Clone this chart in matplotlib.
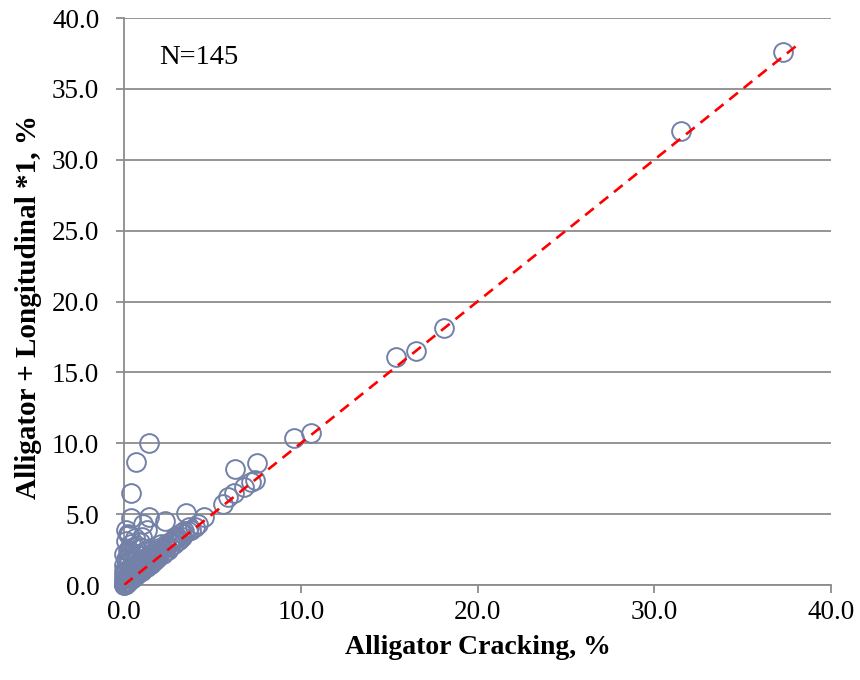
import matplotlib
matplotlib.use("Agg")
import matplotlib.pyplot as plt
from matplotlib.ticker import MultipleLocator, FormatStrFormatter

# Alligator cracking (%) for each section
alligator = [
    37.3, 31.5, 18.1, 16.5, 15.4, 10.6, 9.6, 7.5, 6.3, 7.4,
    7.2, 6.8, 6.2, 5.9, 5.6, 4.5, 3.5, 1.4, 0.7, 0.4,
    0.4, 1.4, 2.3, 1.1, 1.3, 0.1, 0.2, 4.2, 4.0, 3.8,
    3.6, 3.4, 3.3, 3.1, 3.0, 2.8, 2.6, 2.5, 2.3, 2.2,
    2.0, 1.9, 1.8, 1.7, 1.6, 1.5, 1.4, 1.3, 1.2, 1.1,
    1.0, 0.9, 0.8, 0.7, 0.6, 0.5, 0.4, 0.3, 0.2, 0.1,
    0.0, 0.0, 0.05, 0.1, 0.15, 0.25, 0.35, 0.45, 0.55, 0.65,
    0.75, 0.85, 0.95, 1.05, 1.25, 1.45, 1.65, 1.85, 3.7, 3.2,
    2.9, 2.7, 2.4, 2.1, 2.0, 1.8, 1.6, 1.5, 1.3, 1.2,
    1.1, 1.0, 0.9, 0.8, 0.7, 0.6, 0.5, 0.4, 0.3, 0.2,
    0.1, 0.0, 0.1, 0.2, 0.3, 0.0, 0.1, 0.0, 0.2, 0.4,
    0.6, 0.8, 1.0, 1.4, 1.7, 2.2, 2.6, 3.0, 3.4, 0.5,
    0.7, 0.3, 0.0, 0.1, 0.0, 0.2, 0.5, 0.9, 1.2, 0.6,
    0.9, 0.3, 1.0, 0.2, 0.4, 0.0, 0.1, 0.3, 0.7, 1.1,
    1.5, 1.9, 2.4, 2.8, 0.0,
]

# Alligator + longitudinal cracking (%) for the same sections
combined = [
    37.6, 32.0, 18.1, 16.5, 16.1, 10.7, 10.4, 8.6, 8.2, 7.4,
    7.3, 6.9, 6.5, 6.2, 5.7, 4.8, 5.1, 10.0, 8.7, 6.5,
    4.7, 4.8, 4.5, 4.3, 3.9, 3.9, 3.6, 4.3, 4.1, 3.9,
    3.8, 3.6, 3.4, 3.2, 3.1, 2.9, 2.7, 2.5, 2.4, 2.2,
    2.1, 2.0, 1.8, 1.7, 1.7, 1.5, 1.4, 1.3, 1.3, 1.1,
    1.0, 0.9, 0.9, 0.7, 0.6, 0.5, 0.4, 0.3, 0.2, 0.1,
    0.0, 0.0, 0.05, 0.1, 0.2, 0.3, 0.4, 0.5, 0.6, 0.7,
    0.8, 0.9, 1.0, 1.1, 1.3, 1.5, 1.7, 1.9, 4.1, 3.7,
    3.4, 3.1, 2.9, 2.9, 2.6, 2.4, 2.5, 2.1, 2.0, 2.4,
    1.8, 2.6, 1.6, 2.1, 1.4, 2.7, 1.2, 2.9, 2.4, 2.5,
    3.1, 2.2, 1.8, 1.5, 1.1, 1.4, 1.0, 0.7, 0.8, 0.9,
    1.0, 1.3, 1.5, 1.8, 2.1, 2.6, 3.0, 3.4, 3.8, 1.9,
    2.2, 1.7, 0.4, 0.5, 0.2, 0.5, 0.8, 1.2, 1.6, 3.3,
    3.0, 3.5, 3.4, 2.0, 2.2, 1.0, 1.3, 0.6, 1.0, 1.4,
    1.9, 2.3, 2.7, 3.2, 0.1,
]

# Line of equality
equality_x = [0.0, 38.0]
equality_y = [0.0, 38.0]

sample_label = "N=145"
x_title = "Alligator Cracking, %"
y_title = "Alligator + Longitudinal *1, %"

serif = ["Liberation Serif", "DejaVu Serif"]
plt.rcParams["font.family"] = serif

grid_grey = "#8c8c8c"
marker_blue = "#7380A8"

fig = plt.figure(figsize=(8.6, 6.8), dpi=100)
ax = fig.add_axes([0.1442, 0.1397, 0.8221, 0.8338])

ax.plot(alligator, combined, linestyle="none", marker="o", markersize=13.5,
        markerfacecolor="none", markeredgecolor=marker_blue,
        markeredgewidth=1.4, clip_on=False, zorder=3)

ax.plot(equality_x, equality_y, color="#ff0000", linewidth=1.9,
        dashes=(4.2, 2.8), zorder=4)

ax.set_xlim(0, 40)
ax.set_ylim(0, 40)
ax.xaxis.set_major_locator(MultipleLocator(10))
ax.yaxis.set_major_locator(MultipleLocator(5))
ax.xaxis.set_major_formatter(FormatStrFormatter("%.1f"))
ax.yaxis.set_major_formatter(FormatStrFormatter("%.1f"))

ax.yaxis.grid(True, color=grid_grey, linewidth=1.3)
ax.set_axisbelow(True)

for side in ("top", "right"):
    ax.spines[side].set_visible(False)
for side in ("left", "bottom"):
    ax.spines[side].set_color(grid_grey)
    ax.spines[side].set_linewidth(1.3)

ax.tick_params(axis="both", direction="out", length=5.8, width=1.3,
               color=grid_grey, labelsize=19.5, labelcolor="black")
ax.tick_params(axis="y", pad=12)
ax.tick_params(axis="x", pad=5)

ax.set_xlabel(x_title, fontsize=20, fontweight="bold")
ax.set_ylabel(y_title, fontsize=21, fontweight="bold")
ax.xaxis.set_label_coords(0.5, -0.088)
ax.yaxis.set_label_coords(-0.116, 0.49)

ax.text(2.0, 37.2, sample_label, fontsize=20.5, ha="left", va="center")

fig.savefig("out.png", dpi=100)
